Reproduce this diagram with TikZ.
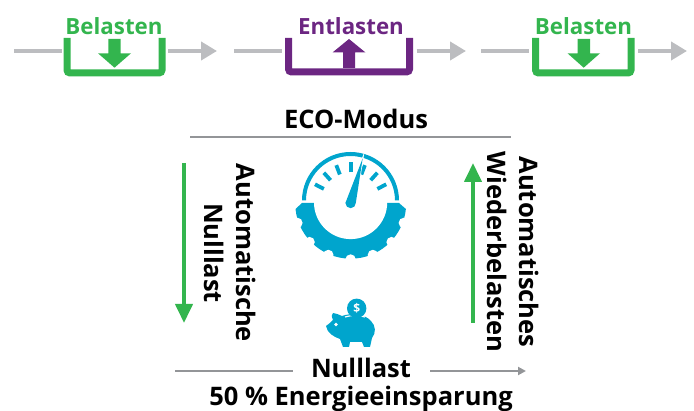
\documentclass[tikz,border=0pt]{standalone}
\usepackage{fontspec}
\setmainfont{Open Sans}
\usetikzlibrary{arrows.meta,calc}
\definecolor{gruen}{RGB}{51,181,78}
\definecolor{lila}{RGB}{108,38,130}
\definecolor{grau}{RGB}{188,189,192}
\definecolor{dunkelgrau}{RGB}{147,149,152}
\definecolor{blau}{RGB}{0,165,205}
\tikzset{
  flow/.style={grau,line width=4.6pt},
  flowtip/.style={flow,-{Triangle[length=16pt,width=18pt]}},
  wanne/.style={line width=7pt,rounded corners=3pt},
  label/.style={font=\bfseries\fontsize{22.3}{24}\selectfont,inner sep=0pt},
  biglabel/.style={font=\bfseries\fontsize{25.5}{32}\selectfont,inner sep=0pt},
  vlabel/.style={biglabel,rotate=-90,align=center,text=black},
  thingrey/.style={dunkelgrau,line width=2pt},
  bigarrow/.style={gruen,line width=4pt,-{Triangle[length=19pt,width=17pt]}},
}
\begin{document}
\begin{tikzpicture}[x=1pt,y=-1pt]   % ------ pixel coordinates, y downwards --------------
    \useasboundingbox (0,0) rectangle (694,411);

    % top row
    \coordinate (A1) at (14,51);    \coordinate (A2) at (62,51);
    \coordinate (A3) at (168,51);   \coordinate (A4) at (217,51);
    \coordinate (B1) at (234,51);   \coordinate (B2) at (282,51);
    \coordinate (B3) at (416.5,51); \coordinate (B4) at (466,51);
    \coordinate (C1) at (481,51);   \coordinate (C2) at (529,51);
    \coordinate (C3) at (638,51);   \coordinate (C4) at (687,51);

    \draw[flow] (A1) -- (A2) ;  \draw[flowtip] (A3) -- (A4) ;
    \draw[flow] (B1) -- (B2) ;  \draw[flowtip] (B3) -- (B4) ;
    \draw[flow] (C1) -- (C2) ;  \draw[flowtip] (C3) -- (C4) ;

    \draw[wanne,gruen] (67,38) -- (67,73) -- (162,73) -- (162,38) ;
    \draw[wanne,lila] (288.5,38) -- (288.5,72) -- (409.5,72) -- (409.5,38) ;
    \draw[wanne,gruen] (535.5,38) -- (535.5,73) -- (631,73) -- (631,38) ;

    \fill[gruen] (108.3,39) -- (120.7,39) -- (120.7,53.3) -- (131,53.3) -- (114.5,67.7) -- (98,53.3) -- (108.3,53.3) -- cycle ;
    \fill[gruen] (577.5,39) -- (590,39) -- (590,53.3) -- (600,53.3) -- (583.7,67.7) -- (567.5,53.3) -- (577.5,53.3) -- cycle ;
    \fill[lila] (343,68) -- (355,68) -- (355,52.5) -- (365.5,52.5) -- (349,39) -- (332.5,52.5) -- (343,52.5) -- cycle ;

    \node[label,text=gruen] (bel1) at (114,26) {Belasten} ;
    \node[label,text=lila] (ent) at (351,26) {Entlasten} ;
    \node[label,text=gruen] (bel2) at (583.5,26) {Belasten} ;

    % middle
    \node[biglabel] (eco) at (356,119) {ECO-Modus} ;
    \coordinate (E1) at (190,136.7);  \coordinate (E2) at (511,136.7);
    \draw[thingrey] (E1) -- (E2) ;

    \coordinate (L1) at (184,163);  \coordinate (L2) at (184,323);
    \coordinate (R1) at (473,323);  \coordinate (R2) at (473,163);
    \draw[bigarrow] (L1) -- (L2) ;
    \draw[bigarrow] (R1) -- (R2) ;

    \node[vlabel] (auto1) at (230,253) {Automatische\\Nulllast} ;
    \node[vlabel] (auto2) at (513,252) {Automatisches\\Wiederbelasten} ;

    % gauge
    \coordinate (G) at (350.6,202.5);
    \fill[blau] (302,200.5) arc (180:360:48.5) -- (395,200.5) arc (360:180:44.5) -- cycle ;
    \fill[blau] (302,203) -- (295.5,209) arc (174:6:55.5) -- (399,203) -- cycle ;
    \foreach \a in {-2,21,44,67,90,113,136,159,182}
      \fill[white] (G) ++(\a:57) circle (5.2) ;
    \fill[white] (G) circle (36.6) ;
    \foreach \a in {27,48,69,90,111,132,153}
      \draw[blau,line width=3.8pt] ($(G)+(-\a:30)$) -- ($(G)+(-\a:40)$) ;
    \draw[white,line width=1.5pt] (345.6,202) -- (362.7,158.3) -- (355.8,202) ;
    \fill[blau] (345.4,203) -- (362.7,158.3) -- (355.8,203) arc (0:180:5.2) -- cycle ;

    % piggy
    \fill[blau] (326,326) .. controls (329,324) and (331,322) .. (333,320) .. controls (331,316) and (332,314) .. (333,313)
      .. controls (336,313) and (339,315) .. (342,316) .. controls (350,313) and (364,313) .. (371,321)
      .. controls (376,326) and (376,333) .. (372,338) -- (370,347) -- (364,347) -- (362,342) -- (350,342) -- (349,347) -- (343,347)
      -- (340,339) .. controls (334,337) and (327,333) .. (326,326) -- cycle ;
    \draw[white,line width=1.2pt] (345,317) .. controls (351,315) and (359,315) .. (365,317) ;
    \fill[blau] (356.7,308.3) circle (9.7) ;
    \node[inner sep=0pt,text=white,font=\bfseries\fontsize{12}{12}\selectfont] (dollar) at (356.7,308.3) {\$} ;
    \fill[white] (336,324.5) circle (1.8) ;

    % bottom
    \node[biglabel] (null) at (361,368) {Nulllast} ;
    \node[biglabel] (spar) at (361,399) {50 \% Energieeinsparung} ;
    \coordinate (N1) at (175,371); \coordinate (N2) at (293,371);
    \coordinate (N3) at (430,371); \coordinate (N4) at (526,371);
    \draw[thingrey] (N1) -- (N2) ;
    \draw[thingrey,-{Triangle[length=8pt,width=8pt]}] (N3) -- (N4) ;
\end{tikzpicture}
\end{document}
